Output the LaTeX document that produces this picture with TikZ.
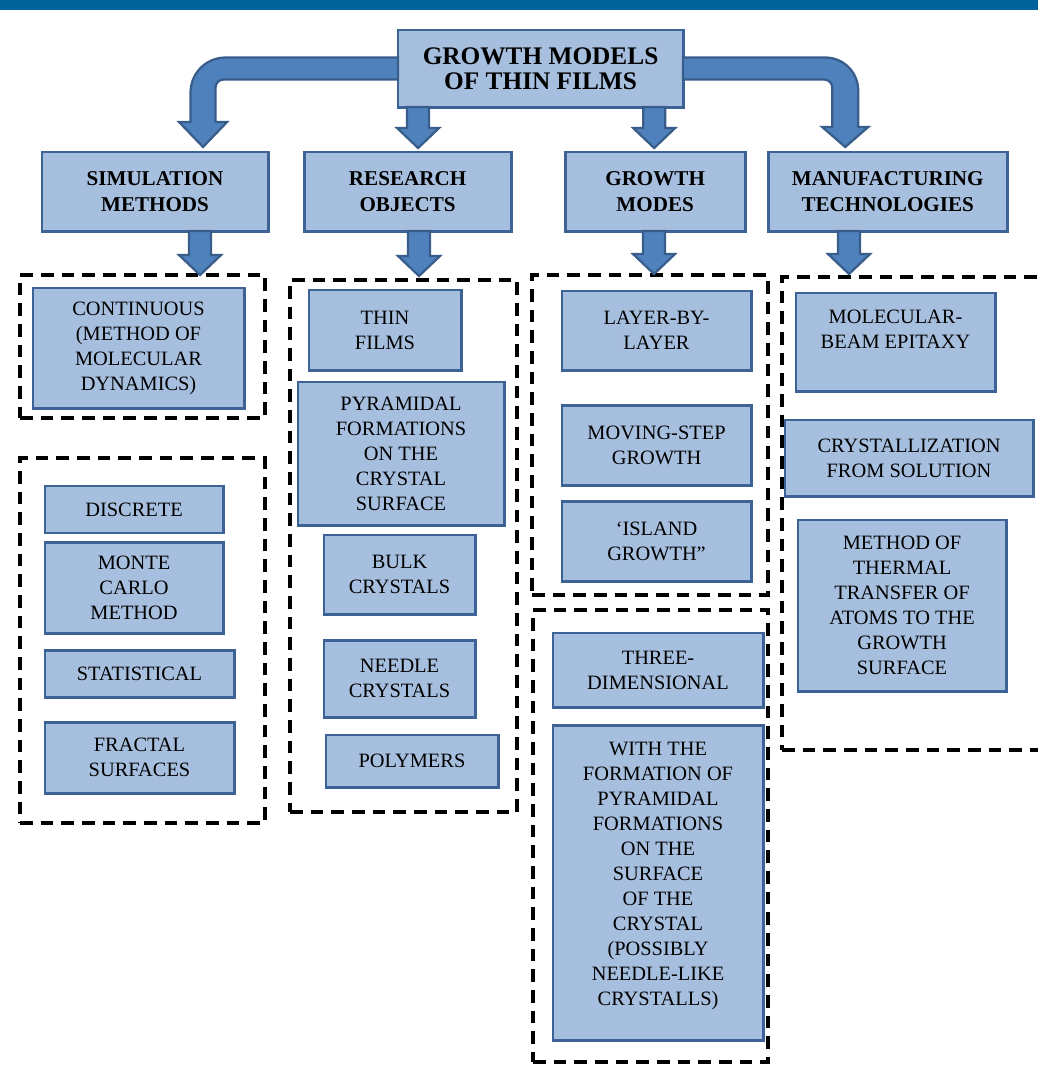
\documentclass[tikz,border=0pt]{standalone}
\usepackage{fontspec}
\setmainfont{Liberation Serif}
\usepackage{tikz}
\usetikzlibrary{positioning, calc}

\definecolor{barblue}{RGB}{0,99,153}
\definecolor{boxfill}{RGB}{167,191,222}
\definecolor{boxline}{RGB}{61,99,150}
\definecolor{arrfill}{RGB}{79,129,189}
\definecolor{arrline}{RGB}{56,93,138}

% straight block arrow: #1 = node it leaves, #2 = tip
\newcommand{\blkdown}[2]{%
  \path (#2) ++(-11,-20) coordinate (sl) ++(22,0) coordinate (sr);
  \draw[blk] (sl |- #1.south) -- (sl) -- ++(-10,0) -- (#2) -- ($(sr)+(10,0)$) -- (sr) -- (sr |- #1.south) -- cycle;}

\begin{document}
\begin{tikzpicture}[
    x=0.025cm, y=-0.025cm,
    box/.style={rectangle, draw=boxline, fill=boxfill, line width=2.1pt, outer sep=0pt, inner sep=0pt, align=center, anchor=north west, font=\fontsize{14.5}{17.8}\selectfont},
    catbox/.style={box, font=\bfseries\fontsize{15}{18.5}\selectfont},
    rootbox/.style={box, font=\bfseries\fontsize{18}{17.8}\selectfont},
    dashframe/.style={rectangle, draw=black, line width=2.6pt, dash pattern=on 9pt off 5.7pt, outer sep=0pt, inner sep=0pt, anchor=north west},
    blk/.style={fill=arrfill, draw=arrline, line width=1.6pt, line join=miter},
]
\useasboundingbox (0,0) rectangle (1038,1067);
\fill[barblue] (0,0) rectangle (1038,10);

% top levels
\node[rootbox, minimum width=7.125cm, minimum height=1.925cm] (root) at (398,30) {GROWTH MODELS\\OF THIN FILMS};
\node[catbox, minimum width=5.65cm, minimum height=1.975cm] (sim) at (42,152) {SIMULATION\\METHODS};
\node[catbox, minimum width=5.175cm, minimum height=1.975cm, right=0.9cm of sim] (res) {RESEARCH\\OBJECTS};
\node[catbox, minimum width=4.5cm, minimum height=1.975cm, right=1.35cm of res] (modes) {GROWTH\\MODES};
\node[catbox, minimum width=5.975cm, minimum height=1.975cm, right=0.575cm of modes] (tech) {MANUFACTURING\\TECHNOLOGIES};

% dashed groups
\node[dashframe, minimum width=6.125cm, minimum height=3.575cm] (fsimA) at (20,275) {};
\node[dashframe, minimum width=6.125cm, minimum height=9.125cm] (fsimB) at (20,458) {};
\node[dashframe, minimum width=5.675cm, minimum height=13.3cm] (fres) at (290,280) {};
\node[dashframe, minimum width=5.9cm, minimum height=8cm] (fmodesA) at (532,275) {};
\node[dashframe, minimum width=5.875cm, minimum height=11.3cm] (fmodesB) at (533,610) {};
\node[dashframe, minimum width=6.575cm, minimum height=11.825cm] (ftech) at (782,277) {};

% simulation methods
\node[box, minimum width=5.275cm, minimum height=3cm] (cont) at (33,288) {CONTINUOUS\\(METHOD OF\\MOLECULAR\\DYNAMICS)};
\node[box, minimum width=4.45cm, minimum height=1.175cm] (disc) at (45,486) {DISCRETE};
\node[box, minimum width=4.45cm, minimum height=2.275cm, below=0.225cm of disc.south west, anchor=north west] (monte) {MONTE\\CARLO\\METHOD};
\node[box, minimum width=4.725cm, minimum height=1.175cm, below=0.425cm of monte.south west, anchor=north west] (stat) {STATISTICAL};
\node[box, minimum width=4.725cm, minimum height=1.775cm, below=0.625cm of stat.south west, anchor=north west] (fract) {FRACTAL\\SURFACES};

% research objects
\node[box, minimum width=3.8cm, minimum height=2cm] (thin) at (309,290) {THIN\\FILMS};
\node[box, minimum width=5.15cm, minimum height=3.575cm] (pyr) at (298,382) {PYRAMIDAL\\FORMATIONS\\ON THE\\CRYSTAL\\SURFACE};
\node[box, minimum width=3.775cm, minimum height=1.975cm] (bulk) at (324,535) {BULK\\CRYSTALS};
\node[box, minimum width=3.775cm, minimum height=1.925cm, below=0.65cm of bulk.south west, anchor=north west] (needle) {NEEDLE\\CRYSTALS};
\node[box, minimum width=4.3cm, minimum height=1.3cm] (poly) at (326,735) {POLYMERS};

% growth modes
\node[box, minimum width=4.725cm, minimum height=1.975cm] (layer) at (562,291) {LAYER-BY-\\LAYER};
\node[box, minimum width=4.725cm, minimum height=2cm, below=0.875cm of layer.south west, anchor=north west] (moving) {MOVING-STEP\\GROWTH};
\node[box, minimum width=4.725cm, minimum height=2cm, below=0.4cm of moving.south west, anchor=north west] (island) {‘ISLAND\\GROWTH”};
\node[box, minimum width=5.25cm, minimum height=1.85cm] (three) at (553,633) {THREE-\\DIMENSIONAL};
\node[box, minimum width=5.25cm, minimum height=7.875cm, below=0.45cm of three.south west, anchor=north west] (withf) {WITH THE\\FORMATION OF\\PYRAMIDAL\\FORMATIONS\\ON THE\\SURFACE\\OF THE\\CRYSTAL\\(POSSIBLY\\NEEDLE-LIKE\\CRYSTALLS)\\[-0.2cm]\mbox{}};

% manufacturing technologies
\node[box, minimum width=4.975cm, minimum height=2.45cm] (mbe) at (796,293) {MOLECULAR-\\BEAM EPITAXY\\\mbox{}};
\node[box, minimum width=6.2cm, minimum height=1.9cm] (cryst) at (785,420) {CRYSTALLIZATION\\FROM SOLUTION};
\node[box, minimum width=5.2cm, minimum height=4.275cm] (therm) at (798,520) {METHOD OF\\THERMAL\\TRANSFER OF\\ATOMS TO THE\\GROWTH\\SURFACE};

% bent arrows from the root
\coordinate (lt) at ($(sim.north)+(48,-5)$);
\draw[blk] ($(root.west)+(0,-11)$) -- ($(root.west -| lt)+(22.5,-11)$) to[out=180,in=90] ($(root.west -| lt)+(-12.5,24)$)
  -- ($(lt)+(-12.5,-25)$) -- ($(lt)+(-24,-25)$) -- (lt) -- ($(lt)+(24,-25)$) -- ($(lt)+(12.5,-25)$)
  -- ($(root.west -| lt)+(12.5,19)$) to[out=90,in=180] ($(root.west -| lt)+(20.5,11)$) -- ($(root.west)+(0,11)$) -- cycle;
\coordinate (rt) at ($(tech.north)+(-42.5,-5)$);
\draw[blk] ($(root.east)+(0,-11)$) -- ($(root.east -| rt)+(-20,-11)$) to[out=0,in=90] ($(root.east -| rt)+(13,22)$)
  -- ($(rt)+(13,-20)$) -- ($(rt)+(23,-20)$) -- (rt) -- ($(rt)+(-23,-20)$) -- ($(rt)+(-13,-20)$)
  -- ($(root.east -| rt)+(-13,19)$) to[out=90,in=0] ($(root.east -| rt)+(-21,11)$) -- ($(root.east)+(0,11)$) -- cycle;

% straight arrows
\blkdown{root}{$(res.north)+(10.5,-4)$}
\blkdown{root}{$(modes.north)+(-1,-4)$}
\blkdown{sim}{$(fsimA.north)+(57.5,0)$}
\blkdown{res}{$(fres.north)+(15.5,-4)$}
\blkdown{modes}{$(fmodesA.north)+(4,-1)$}
\blkdown{tech}{$(ftech.north)+(-64.5,-3)$}
\end{tikzpicture}
\end{document}
